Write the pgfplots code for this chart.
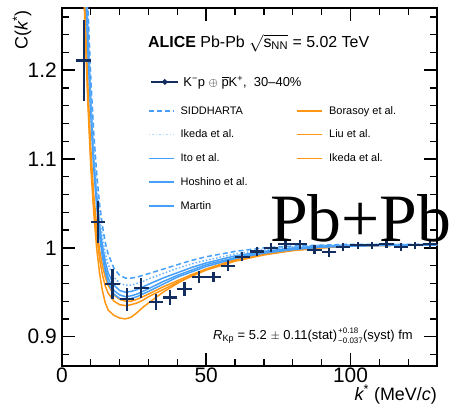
\documentclass[border=0pt]{standalone}
\usepackage{amsmath}
\usepackage{pgfplots}
\pgfplotsset{compat=1.18}
\usepackage{pgfplotstable}
\usepackage{fontspec}
\setmainfont{Liberation Sans}
\newfontfamily\seriffont{Liberation Serif}
\definecolor{navy}{RGB}{20,45,95}
\definecolor{lblue}{RGB}{70,160,250}
\definecolor{orng}{RGB}{255,150,20}

\pgfplotstableread{
k c ex ey
7.5 1.211 2.5 0.046
12.5 1.029 2.5 0.024
17.5 0.959 2.5 0.017
22.5 0.942 2.5 0.013
27.5 0.955 2.5 0.011
32.5 0.939 2.5 0.009
37.5 0.944 2.5 0.008
42.5 0.954 2.5 0.008
47.5 0.967 2.5 0.007
52.5 0.967 2.5 0.006
57.5 0.980 2.5 0.006
62.5 0.990 2.5 0.005
67.5 0.996 2.5 0.005
72.5 1.000 2.5 0.005
77.5 1.004 2.5 0.005
82.5 1.004 2.5 0.005
87.5 0.998 2.5 0.005
92.5 0.995 2.5 0.005
97.5 1.001 2.5 0.004
102.5 1.003 2.5 0.004
107.5 1.003 2.5 0.004
112.5 1.004 2.5 0.004
117.5 1.001 2.5 0.004
122.5 1.003 2.5 0.004
127.5 1.004 2.5 0.004
}\datatab

\pgfplotstableread{
k b1 b2 b3 b4 b5 o1 o2 o3
6 1.60 1.58 1.57 1.56 1.55 1.50 1.49 1.48
7 1.47 1.45 1.44 1.43 1.42 1.37 1.36 1.35
8 1.36 1.34 1.33 1.32 1.31 1.265 1.255 1.245
9 1.27 1.25 1.24 1.23 1.22 1.18 1.17 1.16
10 1.19 1.17 1.16 1.155 1.15 1.11 1.10 1.09
11 1.13 1.11 1.10 1.095 1.09 1.06 1.05 1.04
12 1.085 1.07 1.06 1.053 1.048 1.025 1.015 1.000
13 1.050 1.036 1.027 1.020 1.014 0.998 0.988 0.972
14 1.025 1.012 1.003 0.996 0.990 0.980 0.970 0.952
15 1.006 0.994 0.985 0.978 0.973 0.967 0.957 0.938
16 0.993 0.981 0.972 0.966 0.961 0.958 0.949 0.930
18 0.977 0.967 0.958 0.952 0.948 0.947 0.940 0.924
20 0.969 0.960 0.952 0.947 0.943 0.942 0.936 0.921
22 0.966 0.958 0.950 0.945 0.942 0.940 0.935 0.920
24 0.966 0.958 0.951 0.946 0.943 0.940 0.936 0.922
26 0.967 0.960 0.953 0.948 0.945 0.942 0.938 0.927
28 0.969 0.962 0.956 0.951 0.948 0.945 0.941 0.933
30 0.971 0.965 0.959 0.954 0.951 0.948 0.945 0.938
35 0.976 0.971 0.966 0.962 0.959 0.956 0.953 0.950
40 0.981 0.977 0.972 0.969 0.967 0.963 0.961 0.960
45 0.986 0.982 0.978 0.975 0.973 0.970 0.968 0.969
50 0.990 0.986 0.983 0.981 0.979 0.976 0.975 0.976
60 0.996 0.993 0.991 0.989 0.988 0.986 0.985 0.987
70 1.000 0.998 0.996 0.995 0.994 0.993 0.992 0.994
80 1.002 1.001 1.000 0.999 0.998 0.997 0.997 0.998
90 1.003 1.003 1.002 1.001 1.001 1.000 1.000 1.001
100 1.004 1.003 1.003 1.002 1.002 1.002 1.002 1.002
115 1.004 1.004 1.003 1.003 1.003 1.003 1.003 1.003
130 1.004 1.004 1.004 1.003 1.003 1.003 1.003 1.003
}\theorytab

\newcommand{\lstrut}{\rule[-2bp]{0pt}{10bp}}

\begin{document}
\begin{tikzpicture}
\useasboundingbox (-62bp,-41bp) rectangle (388bp,366bp);
\begin{axis}[
  at={(0bp,0bp)}, anchor=south west,
  scale only axis, width=375bp, height=358bp,
  xmin=0, xmax=130, ymin=0.867, ymax=1.27,
  xtick={0,50,100},
  minor xtick={10,20,30,40,60,70,80,90,110,120},
  ytick={0.9,1,1.1,1.2},
  minor ytick={0.88,0.92,0.94,0.96,0.98,1.02,1.04,1.06,1.08,1.12,1.14,1.16,1.18,1.22,1.24,1.26},
  xtick pos=both, ytick pos=both,
  xticklabel pos=lower, yticklabel pos=left,
  tick align=inside,
  major tick length=13bp, minor tick length=7bp,
  major tick style={line width=1.5bp, black},
  minor tick style={line width=1.3bp, black},
  axis line style={line width=2bp, black},
  /pgf/number format/assume math mode=true,
  ticklabel style={font=\fontsize{21}{21}\selectfont, inner sep=0pt},
  yticklabel style={xshift=-5bp},
  xticklabel style={yshift=-2bp},
  xlabel={{\itshape k}\textsuperscript{*} (MeV/{\itshape c})},
  xlabel style={at={(axis description cs:1,-0.095)}, anchor=base east, inner sep=0pt, font=\fontsize{18}{18}\selectfont},
  ylabel={C({\itshape k}\textsuperscript{*})},
  ylabel style={at={(axis description cs:-0.1067,0.9944)}, anchor=east, inner sep=0pt, font=\fontsize{18}{18}\selectfont},
  legend columns=2,
  legend cell align=left,
  legend style={draw=none, fill=none, inner xsep=0pt, inner ysep=0pt,
    at={(axis description cs:0.2293,0.726)}, anchor=north west,
    font=\fontsize{11}{11}\selectfont,
    nodes={inner sep=0pt},
    column sep=6bp, row sep=14.2bp,
    /tikz/every even column/.append style={column sep=16bp}},
  legend image code/.code={\draw[#1] (0bp,0bp) -- (25bp,0bp);},
]
\addplot[orng, line width=1.5bp, forget plot] table[x=k, y=o1] {\theorytab};
\addplot[orng, line width=1.5bp, forget plot] table[x=k, y=o2] {\theorytab};
\addplot[orng, line width=1.5bp, forget plot] table[x=k, y=o3] {\theorytab};
\addplot[lblue, line width=1.5bp, forget plot] table[x=k, y=b5] {\theorytab};
\addplot[lblue, line width=1.5bp, forget plot] table[x=k, y=b4] {\theorytab};
\addplot[lblue, line width=1.5bp, forget plot] table[x=k, y=b3] {\theorytab};
\addplot[lblue!80, line width=1.5bp, dotted, forget plot] table[x=k, y=b2] {\theorytab};
\addplot[lblue, line width=1.5bp, dash pattern=on 5bp off 3bp, forget plot] table[x=k, y=b1] {\theorytab};
\addplot[navy, only marks, mark=*, mark size=1.2bp, forget plot,
  error bars/.cd, x dir=both, x explicit, y dir=both, y explicit,
  error mark=none, error bar style={line width=2.2bp, navy}]
  table[x=k, y=c, x error=ex, y error=ey] {\datatab};
\addlegendimage{lblue, line width=1.5bp, dash pattern=on 5bp off 3bp}
\addlegendentry{\makebox[100bp][l]{\lstrut SIDDHARTA}}
\addlegendimage{orng, line width=1.5bp}
\addlegendentry{\lstrut Borasoy et al.}
\addlegendimage{lblue!40, line width=1.5bp, dotted}
\addlegendentry{\makebox[100bp][l]{\lstrut Ikeda et al.}}
\addlegendimage{orng, line width=1.5bp}
\addlegendentry{\lstrut Liu et al.}
\addlegendimage{lblue, line width=1.5bp}
\addlegendentry{\makebox[100bp][l]{\lstrut Ito et al.}}
\addlegendimage{orng, line width=1.5bp}
\addlegendentry{\lstrut Ikeda et al.}
\addlegendimage{lblue, line width=1.5bp}
\addlegendentry{\makebox[100bp][l]{\lstrut Hoshino et al.}}
\addlegendimage{empty legend}
\addlegendentry{\lstrut}
\addlegendimage{lblue, line width=1.5bp}
\addlegendentry{\makebox[100bp][l]{\lstrut Martin}}
\addlegendimage{empty legend}
\addlegendentry{\lstrut}
\end{axis}

\begin{axis}[
  at={(0bp,0bp)}, anchor=south west,
  scale only axis, width=375bp, height=358bp,
  hide axis, xmin=0, xmax=1, ymin=0, ymax=1,
  legend cell align=left,
  legend style={draw=none, fill=none, inner xsep=0pt, inner ysep=0pt,
    at={(axis description cs:0.2347,0.7933)}, anchor=west,
    font=\fontsize{13}{13}\selectfont,
    nodes={inner sep=0pt}, column sep=4bp},
  legend image code/.code={\draw[mark repeat=2, mark phase=2, #1] plot coordinates {(0bp,0bp) (13.5bp,0bp) (27bp,0bp)};},
]
\addlegendimage{navy, line width=2.2bp, mark=*, mark size=1.5bp}
\addlegendentry{K\textsuperscript{−}p $\oplus$ $\overline{\text{p}}$K\textsuperscript{+}, \ 30--40\%}
\end{axis}

\node[anchor=west, inner sep=0pt, font=\fontsize{16}{16}\selectfont] at (86bp,323bp)
  {\textbf{ALICE} Pb-Pb $\sqrt{\text{s}_{\text{NN}}}$ = 5.02 TeV};
\node[anchor=base west, inner sep=0pt, font=\fontsize{13}{13}\selectfont] (rt) at (151bp,27bp)
  {{\itshape R}\textsubscript{Kp} = 5.2 $\pm$ 0.11(stat)\hspace{26bp}(syst) fm};
\node[anchor=base west, inner sep=0pt, font=\fontsize{8}{8}\selectfont] at (276bp,32.5bp) {+0.18};
\node[anchor=base west, inner sep=0pt, font=\fontsize{8}{8}\selectfont] at (276bp,23bp) {−0.037};
\node[anchor=base west, inner sep=0pt, font=\seriffont\fontsize{68}{68}\selectfont] at (208bp,124bp) {Pb+Pb};
\end{tikzpicture}
\end{document}
